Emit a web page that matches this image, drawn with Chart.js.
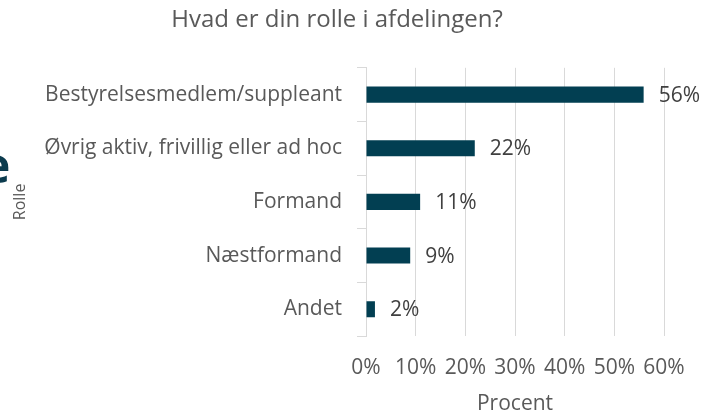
<!DOCTYPE html>
<html>
<head>
<meta charset="utf-8">
<script src="https://cdn.jsdelivr.net/npm/chart.js@4"></script>
<style>
  html, body { margin: 0; padding: 0; background: #ffffff; }
  #wrap { width: 705px; height: 415px; }
</style>
</head>
<body>
<div id="wrap"><canvas id="chart" width="705" height="415"></canvas></div>
<script>
// Hvad er din rolle i afdelingen? - horizontal bar chart
const roles = [
  "Bestyrelsesmedlem/suppleant",
  "Øvrig aktiv, frivillig eller ad hoc",
  "Formand",
  "Næstformand",
  "Andet",
];
const shares = [55.9, 21.9, 10.9, 8.9, 1.8]; // procent
const xTicks = [0, 10, 20, 30, 40, 50, 60];

const TEXT = "#595959";
const BAR = "#023f52";
const FONT = "'Open Sans', 'DejaVu Sans', sans-serif";

// percent labels to the right of each bar
const barLabels = {
  id: "barLabels",
  afterDatasetsDraw(chart) {
    const ctx = chart.ctx;
    const meta = chart.getDatasetMeta(0);
    ctx.save();
    ctx.font = "21px " + FONT;
    ctx.fillStyle = "#404040";
    ctx.textAlign = "left";
    ctx.textBaseline = "middle";
    meta.data.forEach((bar, i) => {
      ctx.fillText(Math.round(shares[i]) + "%", bar.x + 15, bar.y + 1);
    });
    ctx.restore();
  },
};

// stray bold "e" cut off at the left edge in the original
const strayGlyph = {
  id: "strayGlyph",
  afterDraw(chart) {
    const ctx = chart.ctx;
    ctx.save();
    ctx.font = "bold 48px " + FONT;
    ctx.fillStyle = "#0b3b4e";
    ctx.textAlign = "left";
    ctx.textBaseline = "alphabetic";
    ctx.fillText("e", -18, 183);
    ctx.restore();
  },
};

new Chart(document.getElementById("chart"), {
  type: "bar",
  data: {
    labels: roles,
    datasets: [
      {
        data: shares,
        backgroundColor: BAR,
        barPercentage: 0.3,
        categoryPercentage: 1,
      },
    ],
  },
  options: {
    indexAxis: "y",
    responsive: false,
    animation: false,
    layout: { padding: { left: 10, right: 41, top: 0, bottom: 0 } },
    plugins: {
      legend: { display: false },
      tooltip: { enabled: false },
      title: {
        display: true,
        text: "Hvad er din rolle i afdelingen?",
        color: TEXT,
        font: { family: FONT, size: 24, weight: "normal" },
        padding: { top: 6, bottom: 33 },
      },
    },
    scales: {
      x: {
        min: 0,
        max: 60,
        afterBuildTicks(scale) {
          scale.ticks = xTicks.map((v) => ({ value: v }));
        },
        afterFit(scale) {
          scale.height = 79;
        },
        ticks: {
          color: TEXT,
          font: { family: FONT, size: 21 },
          padding: 19,
          callback: (v) => v + "%",
        },
        grid: { color: "#d9d9d9", drawTicks: false },
        border: { display: false },
        title: {
          display: true,
          text: "Procent",
          color: TEXT,
          font: { family: FONT, size: 21 },
          padding: { top: 0, bottom: -2 },
        },
      },
      y: {
        afterFit(scale) {
          scale.width = 356;
        },
        ticks: {
          color: TEXT,
          font: { family: FONT, size: 21 },
          padding: 15,
        },
        grid: {
          offset: true,
          drawOnChartArea: false,
          drawTicks: true,
          tickLength: 9,
          color: "#d9d9d9",
        },
        border: { display: true, color: "#d9d9d9" },
        title: {
          display: true,
          text: "Rolle",
          color: TEXT,
          font: { family: FONT, size: 16 },
          padding: { top: 1, bottom: 0 },
        },
      },
    },
  },
  plugins: [barLabels, strayGlyph],
});
</script>
</body>
</html>
